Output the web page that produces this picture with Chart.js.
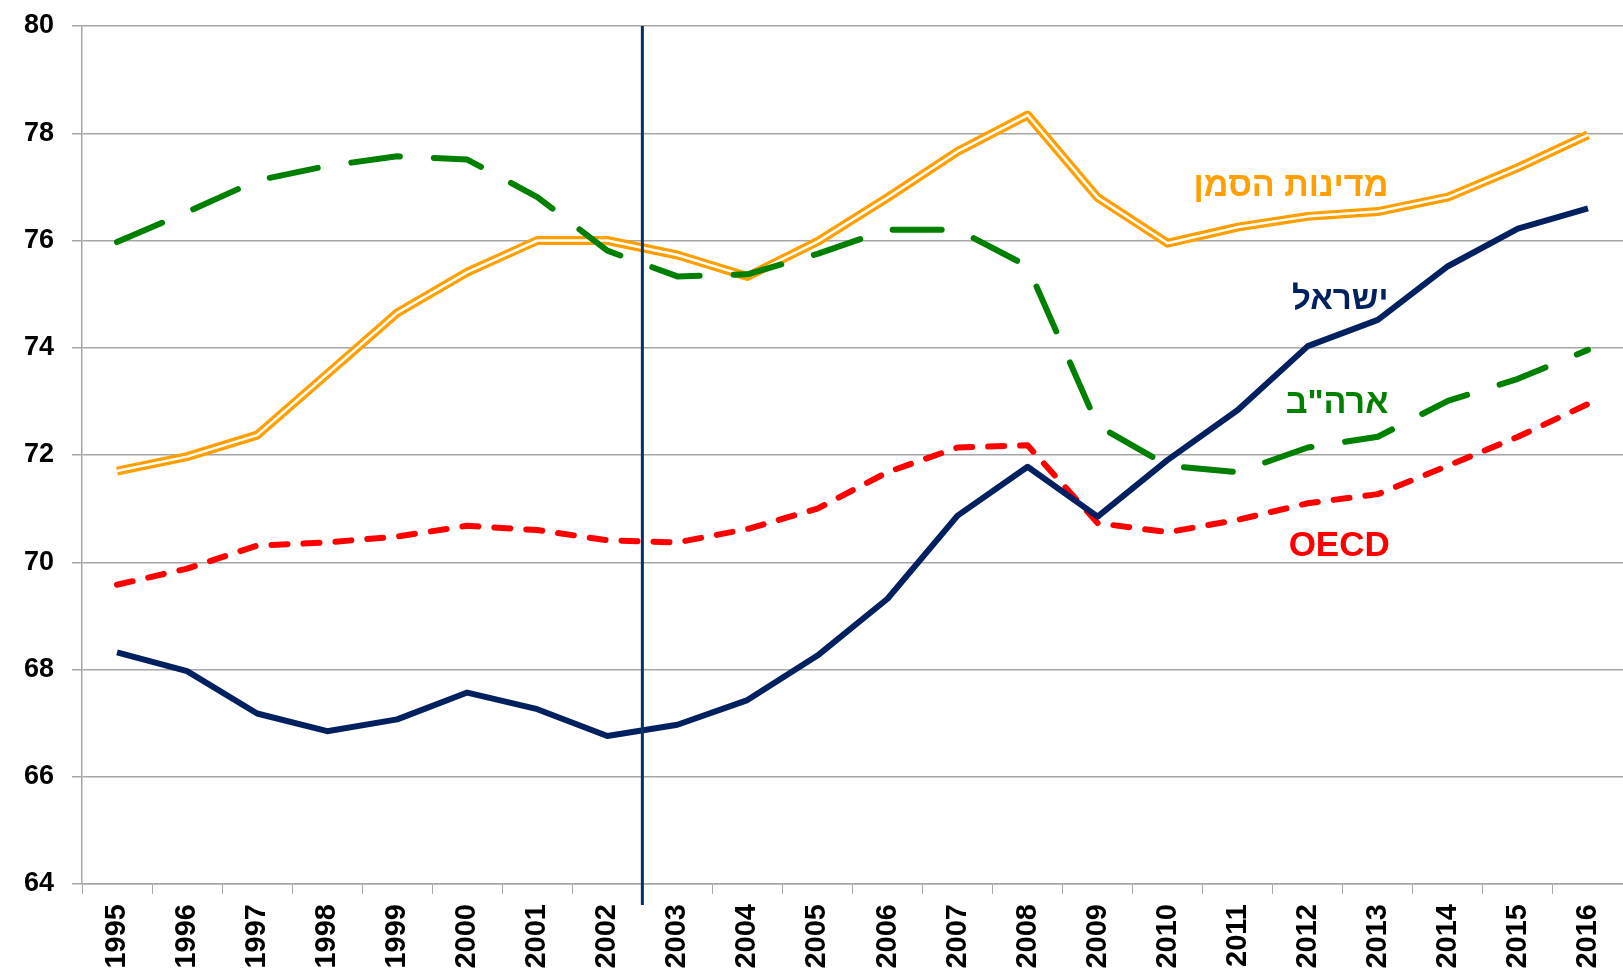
<!DOCTYPE html>
<html>
<head>
<meta charset="utf-8">
<script src="https://cdn.jsdelivr.net/npm/chart.js@4/dist/chart.umd.min.js"></script>
<style>
  html, body { margin: 0; padding: 0; background: #fff; }
  #wrap { width: 1623px; height: 978px; }
</style>
</head>
<body>
<div id="wrap"><canvas id="myChart"></canvas></div>
<script>
const years = ['1995', '1996', '1997', '1998', '1999', '2000', '2001', '2002', '2003', '2004', '2005',
    '2006', '2007', '2008', '2009', '2010', '2011', '2012', '2013', '2014', '2015', '2016'];
const israel = [68.32, 67.97, 67.18, 66.85, 67.07, 67.57, 67.26, 66.76, 66.97, 67.43, 68.26,
    69.32, 70.87, 71.78, 70.85, 71.91, 72.84, 74.03, 74.52, 75.52, 76.22, 76.60];
const usa = [75.97, 76.53, 77.12, 77.39, 77.57, 77.51, 76.81, 75.81, 75.33, 75.37, 75.75,
    76.20, 76.20, 75.52, 72.55, 71.80, 71.68, 72.14, 72.34, 73.01, 73.42, 73.96];
const oecd = [69.58, 69.88, 70.31, 70.37, 70.48, 70.68, 70.60, 70.41, 70.37, 70.62, 71.00,
    71.68, 72.14, 72.18, 70.73, 70.56, 70.79, 71.10, 71.27, 71.80, 72.34, 72.95];
const benchmark = [71.70, 71.97, 72.37, 73.51, 74.65, 75.41, 76.00, 76.00, 75.73, 75.33, 75.98,
    76.80, 77.66, 78.34, 76.80, 75.95, 76.25, 76.45, 76.54, 76.81, 77.36, 77.97];
const yTicks = [64, 66, 68, 70, 72, 74, 76, 78, 80];

// תוויות הסדרות (מיקום בערכי הצירים)
const seriesLabels = [
    { text: 'מדינות הסמן', x: 18.15, y: 77.0, color: '#FFA000', size: 34 },
    { text: 'ישראל', x: 18.15, y: 74.9, color: '#002060', size: 33 },
    { text: 'ארה"ב', x: 18.15, y: 72.95, color: '#008000', size: 34 },
    { text: 'OECD', x: 18.17, y: 70.3, color: '#FF0000', size: 35 }
];

// קו אנכי בין 2002 ל-2003 + תוויות
const extrasPlugin = {
    id: 'extras',
    afterDatasetsDraw(chart) {
        const { ctx, scales: { x, y }, chartArea } = chart;
        const step = x.getPixelForValue(1) - x.getPixelForValue(0);
        const lx = (x.getPixelForValue(7) + x.getPixelForValue(8)) / 2;
        ctx.save();
        ctx.strokeStyle = '#003366';
        ctx.lineWidth = 3;
        ctx.beginPath();
        ctx.moveTo(lx, y.getPixelForValue(80));
        ctx.lineTo(lx, chartArea.bottom + 21);
        ctx.stroke();

        ctx.textAlign = 'right';
        ctx.textBaseline = 'middle';
        ctx.direction = 'rtl';
        seriesLabels.forEach(l => {
            const px = x.getPixelForValue(0) + l.x * step;
            ctx.font = 'bold ' + l.size + 'px "Liberation Sans", Arial, sans-serif';
            ctx.fillStyle = l.color;
            ctx.fillText(l.text, px, y.getPixelForValue(l.y));
        });
        ctx.restore();
    }
};

const ctx1 = document.getElementById('myChart');
new Chart(ctx1, {
    type: 'line',
    data: {
        labels: years,
        datasets: [
            {
                label: 'ישראל',
                data: israel,
                borderColor: '#002060',
                borderWidth: 6,
                order: 0
            },
            {
                label: 'OECD',
                data: oecd,
                borderColor: '#FF0000',
                borderWidth: 6,
                borderDash: [16, 16],
                borderCapStyle: 'round',
                order: 1
            },
            {
                label: 'ארה"ב',
                data: usa,
                borderColor: '#008000',
                borderWidth: 6,
                borderDash: [49, 34],
                borderCapStyle: 'round',
                order: 2
            },
            {
                label: 'מדינות הסמן - פנים',
                data: benchmark,
                borderColor: '#FFFFFF',
                borderWidth: 2.5,
                order: 3
            },
            {
                label: 'מדינות הסמן',
                data: benchmark,
                borderColor: '#FFA000',
                borderWidth: 9,
                order: 4
            }
        ]
    },
    options: {
        responsive: true,
        maintainAspectRatio: false,
        animation: false,
        layout: { padding: { top: 26, right: 0, left: 0, bottom: 0 } },
        elements: {
            point: { radius: 0, hoverRadius: 0 },
            line: { tension: 0, borderJoinStyle: 'round' }
        },
        plugins: {
            legend: { display: false },
            tooltip: { enabled: false }
        },
        scales: {
            x: {
                offset: true,
                grid: {
                    offset: true,
                    drawOnChartArea: false,
                    drawTicks: true,
                    tickLength: 10,
                    color: '#A6A6A6'
                },
                border: { color: '#A6A6A6', width: 1.5 },
                ticks: {
                    color: '#000',
                    font: { family: '"Liberation Sans", Arial, sans-serif', size: 29, weight: 'bold' },
                    minRotation: 90,
                    maxRotation: 90,
                    autoSkip: false,
                    padding: 10
                },
                afterFit(scale) {
                    scale.height = 94;
                    scale.paddingLeft = 0;
                    scale.paddingRight = 0;
                }
            },
            y: {
                min: 64,
                max: 80,
                afterBuildTicks(scale) { scale.ticks = yTicks.map(v => ({ value: v })); },
                grid: {
                    color: '#A6A6A6',
                    lineWidth: 1.5,
                    tickLength: 10
                },
                border: { color: '#A6A6A6', width: 1.5 },
                ticks: {
                    color: '#000',
                    font: { family: '"Liberation Sans", Arial, sans-serif', size: 27, weight: 'bold' },
                    padding: 18
                },
                afterFit(scale) {
                    scale.width = 82;
                    scale.paddingTop = 0;
                    scale.paddingBottom = 0;
                }
            }
        }
    },
    plugins: [extrasPlugin]
});
</script>
</body>
</html>
